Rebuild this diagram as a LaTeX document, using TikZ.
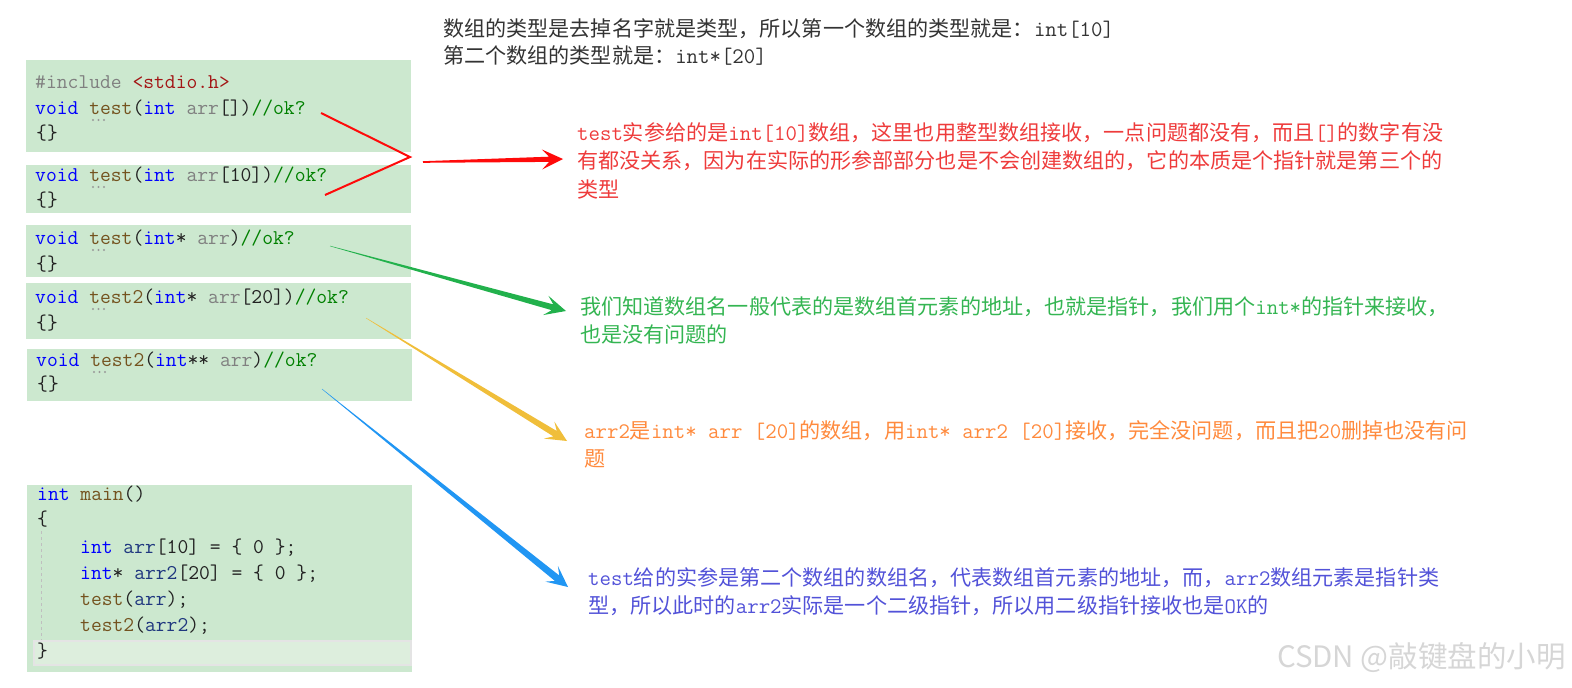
\documentclass[tikz,border=0pt]{standalone}
\usepackage{fontspec}
\newfontfamily\cjk{Noto Sans CJK SC}
\usetikzlibrary{calc}
\definecolor{boxg}{HTML}{CCE8CF}
\definecolor{rowg}{HTML}{DDEEDD}
\definecolor{rowline}{HTML}{E4E4E4}
\definecolor{kwblue}{HTML}{0000FF}
\definecolor{fnbrown}{HTML}{74531F}
\definecolor{vargrey}{HTML}{808080}
\definecolor{cmtgreen}{HTML}{008000}
\definecolor{incl}{HTML}{A31515}
\definecolor{locvar}{HTML}{1F377F}
\definecolor{codeblack}{HTML}{222222}
\definecolor{topgrey}{HTML}{333333}
\definecolor{redtxt}{HTML}{EE3B3B}
\definecolor{greentxt}{HTML}{34B552}
\definecolor{orangetxt}{HTML}{FF8A3D}
\definecolor{bluetxt}{HTML}{5252D8}
\definecolor{arrred}{HTML}{FF0A0A}
\definecolor{arrgreen}{HTML}{22B14C}
\definecolor{arrorange}{HTML}{F0BE3A}
\definecolor{arrblue}{HTML}{2196F3}
\definecolor{wmgrey}{HTML}{D6D6D6}
\newcommand\kw[1]{\textcolor{kwblue}{#1}}
\newcommand\fn[1]{\textcolor{fnbrown}{#1}}
\newcommand\vr[1]{\textcolor{vargrey}{#1}}
\newcommand\cmt[1]{\textcolor{cmtgreen}{#1}}
\newcommand\lv[1]{\textcolor{locvar}{#1}}
\newcommand\lat[1]{{\ttfamily\fontsize{22.2}{24}\selectfont #1}}
\newcommand\taperarrow[5]{%
  \coordinate (tpN) at ($(#2)!14pt!(#1)$);
  \coordinate (tpW) at ($(#2)!21pt!(#1)$);
  \fill[#3] ($(#1)!#4!90:(#2)$) -- ($(tpN)!#5!90:(#2)$) -- ($(tpW)!10pt!90:(#2)$) -- (#2)
    -- ($(tpW)!10pt!-90:(#2)$) -- ($(tpN)!#5!-90:(#2)$) -- ($(#1)!#4!-90:(#2)$) -- cycle;}
\tikzset{
  codebox/.style={fill=boxg, draw=none},
  code/.style={anchor=west, inner sep=0pt, text=codeblack,
    font=\ttfamily\fontsize{21}{24}\selectfont, text height=14pt, text depth=4pt},
  ann/.style={anchor=north west, inner sep=0pt, align=left,
    font=\cjk\fontsize{21.1}{28.5}\selectfont},
  hintdot/.style={fill=vargrey!80},
}
\newcommand\hint[1]{%
  \fill[hintdot] (93,#1) circle (1.1pt) (98.5,#1) circle (1.1pt) (104,#1) circle (1.1pt);}
\begin{document}
\begin{tikzpicture}[x=1pt,y=-1pt]
\useasboundingbox (0,0) rectangle (1572,688);
% code boxes
\path[codebox] (26,60) rectangle (411,152);
\path[codebox] (26,165) rectangle (411,213);
\path[codebox] (26,225) rectangle (411,277);
\path[codebox] (26,283) rectangle (411,339);
\path[codebox] (27,349) rectangle (412,401);
\path[codebox] (27,485) rectangle (412,672);
\draw[fill=rowg, draw=rowline, line width=1.5pt] (34,641) rectangle (411,665);
\draw[dashed, draw=black!25, line width=1pt] (41,531) -- (41,640);
% code text
\node[code] (l1) at (35,83) {\textcolor{vargrey}{\#include} \textcolor{incl}{<stdio.h>}};
\node[code] (l2) at (35,109) {\kw{void} \fn{test}(\kw{int} \vr{arr}[])\cmt{//ok?}};
\node[code] (l3) at (36,134) {\{\}};
\node[code] (l4) at (35,176) {\kw{void} \fn{test}(\kw{int} \vr{arr}[10])\cmt{//ok?}};
\node[code] (l5) at (36,201) {\{\}};
\node[code] (l6) at (35,239) {\kw{void} \fn{test}(\kw{int}* \vr{arr})\cmt{//ok?}};
\node[code] (l7) at (36,265) {\{\}};
\node[code] (l8) at (35,298) {\kw{void} \fn{test2}(\kw{int}* \vr{arr}[20])\cmt{//ok?}};
\node[code] (l9) at (36,324) {\{\}};
\node[code] (l10) at (36,361) {\kw{void} \fn{test2}(\kw{int}** \vr{arr})\cmt{//ok?}};
\node[code] (l11) at (37,385) {\{\}};
\hint{120}\hint{187}\hint{250}\hint{309}
\fill[hintdot] (94,372) circle (1.1pt) (99.5,372) circle (1.1pt) (105,372) circle (1.1pt);
\node[code] (m1) at (37,495) {\kw{int} \fn{main}()};
\node[code] (m2) at (37,520) {\{};
\node[code] (m3) at (80,548) {\kw{int} \lv{arr}[10] = \{ 0 \};};
\node[code] (m4) at (80,574) {\kw{int}* \lv{arr2}[20] = \{ 0 \};};
\node[code] (m5) at (80,600) {\fn{test}(\lv{arr});};
\node[code] (m6) at (80,626) {\fn{test2}(\lv{arr2});};
\node[code] (m7) at (37,652) {\}};
% annotations
\node[ann, text=topgrey, font=\cjk\fontsize{21.1}{27}\selectfont] (t0) at (443,18)
  {数组的类型是去掉名字就是类型，所以第一个数组的类型就是：\lat{int[10]}\\第二个数组的类型就是：\lat{int*[20]}};
\node[ann, text=redtxt] (tr) at (577,122)
  {\lat{test}实参给的是\lat{int[10]}数组，这里也用整型数组接收，一点问题都没有，而且\lat{[]}的数字有没\\有都没关系，因为在实际的形参部部分也是不会创建数组的，它的本质是个指针就是第三个的\\类型};
\node[ann, text=greentxt] (tg) at (580,296)
  {我们知道数组名一般代表的是数组首元素的地址，也就是指针，我们用个\lat{int*}的指针来接收，\\也是没有问题的};
\node[ann, text=orangetxt] (to) at (584,420)
  {\lat{arr2}是\lat{int* arr [20]}的数组，用\lat{int* arr2 [20]}接收，完全没问题，而且把\lat{20}删掉也没有问\\题};
\node[ann, text=bluetxt] (tb) at (588,567)
  {\lat{test}给的实参是第二个数组的数组名，代表数组首元素的地址，而，\lat{arr2}数组元素是指针类\\型，所以此时的\lat{arr2}实际是一个二级指针，所以用二级指针接收也是\lat{OK}的};
\node[anchor=east, inner sep=0pt, text=wmgrey, font=\cjk\fontsize{29.5}{32}\selectfont] (wm) at (1566,658) {CSDN @敲键盘的小明};
% connectors
\coordinate (r1) at (321,113);
\coordinate (rj) at (410,157);
\coordinate (r2) at (325,195);
\draw[arrred, line width=2pt] (r1) -- (rj) -- (r2);
\coordinate (rs) at (423,162);
\coordinate (re) at (563,159);
\taperarrow{rs}{re}{arrred}{0.8pt}{2.6pt}
\coordinate (gs) at (330,246);
\coordinate (ge) at (566,311);
\taperarrow{gs}{ge}{arrgreen}{0.2pt}{3pt}
\coordinate (os) at (366,318);
\coordinate (oe) at (567,441);
\taperarrow{os}{oe}{arrorange}{0.2pt}{3.2pt}
\coordinate (bs) at (322,389);
\coordinate (be) at (568,587);
\taperarrow{bs}{be}{arrblue}{0.2pt}{3.5pt}
\end{tikzpicture}
\end{document}
